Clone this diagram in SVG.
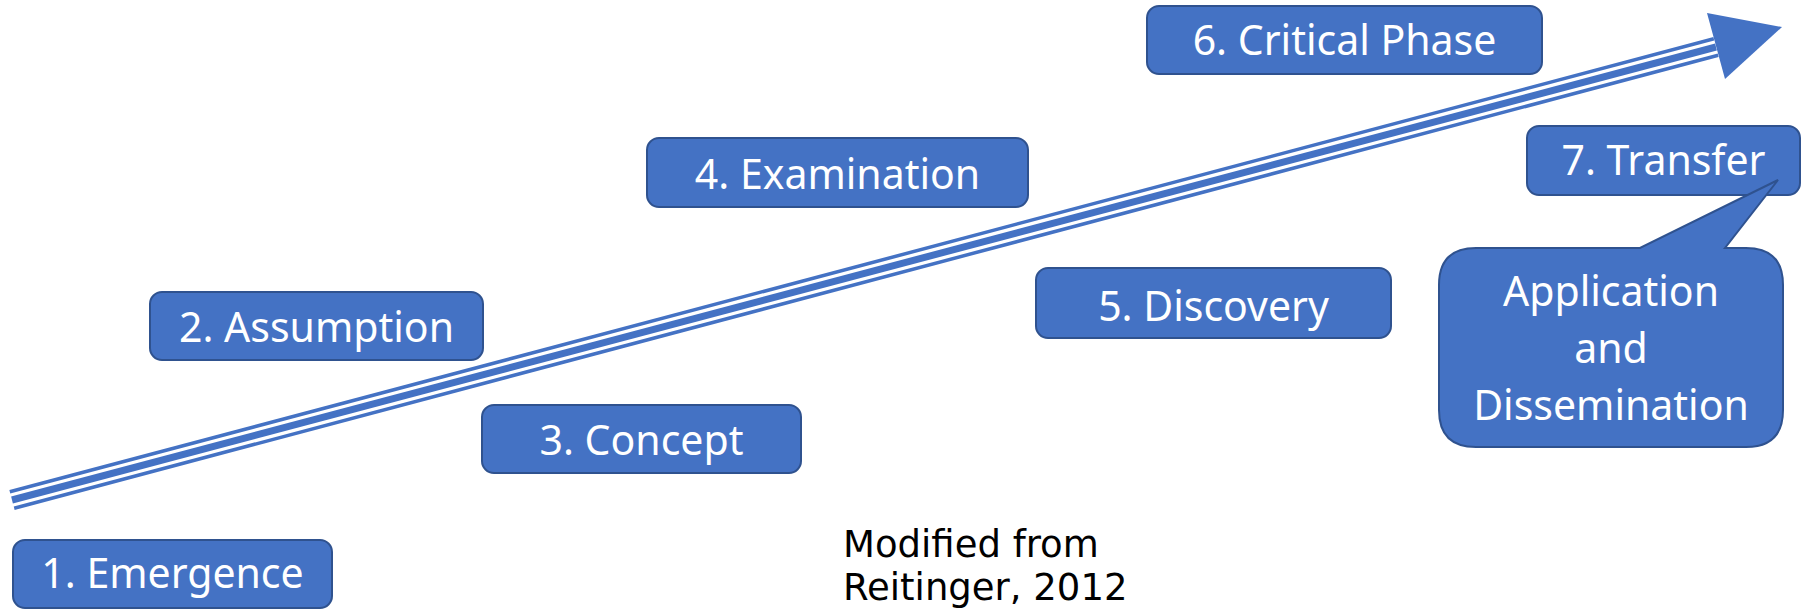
<svg xmlns="http://www.w3.org/2000/svg" width="1808" height="609" viewBox="0 0 1808 609">
<style>
.box{fill:#4472C4;stroke:#2F528F;stroke-width:2}
.lbl{font-family:"Noto Sans","Open Sans",sans-serif;font-size:41px;fill:#FFFFFF;text-anchor:middle}
.ln{stroke:#4472C4;fill:none;stroke-linecap:butt}
.note{font-family:"DejaVu Sans",sans-serif;font-size:37px;fill:#000000}
</style>
<rect width="1808" height="609" fill="#FFFFFF"/>
<g id="connectors">
<line class="ln" x1="9.8" y1="491.8" x2="1713.8" y2="38.8" stroke-width="3.5"/>
<line class="ln" x1="12" y1="500" x2="1716" y2="47" stroke-width="7"/>
<line class="ln" x1="14.2" y1="508.2" x2="1718.2" y2="55.2" stroke-width="3.5"/>
<polygon points="1707,13 1782,27 1725,79" fill="#4472C4"/>
</g>
<g id="n1"><rect class="box" x="13" y="540" width="319" height="68" rx="12"/><text class="lbl" x="172.5" y="588">1. Emergence</text></g>
<g id="n2"><rect class="box" x="150" y="292" width="333" height="68" rx="12"/><text class="lbl" x="316.5" y="342">2. Assumption</text></g>
<g id="n3"><rect class="box" x="482" y="405" width="319" height="68" rx="12"/><text class="lbl" x="641.5" y="455">3. Concept</text></g>
<g id="n4"><rect class="box" x="647" y="138" width="381" height="69" rx="12"/><text class="lbl" x="837.5" y="189">4. Examination</text></g>
<g id="n5"><rect class="box" x="1036" y="268" width="355" height="70" rx="12"/><text class="lbl" x="1213.5" y="321">5. Discovery</text></g>
<g id="n6"><rect class="box" x="1147" y="6" width="395" height="68" rx="12"/><text class="lbl" x="1344.5" y="55">6. Critical Phase</text></g>
<g id="n7"><rect class="box" x="1527" y="126" width="273" height="69" rx="12"/><text class="lbl" x="1663.5" y="175">7. Transfer</text></g>
<g id="callout">
<path class="box" d="M1476,248 L1640,248 L1778,180 L1725,248 L1746,248 Q1783,248 1783,285 L1783,410 Q1783,447 1746,447 L1476,447 Q1439,447 1439,410 L1439,285 Q1439,248 1476,248 Z"/>
<text class="lbl" x="1611" y="306">Application</text>
<text class="lbl" x="1611" y="363">and</text>
<text class="lbl" x="1611" y="420">Dissemination</text>
</g>
<g id="note">
<text class="note" x="843" y="557">Modified from</text>
<text class="note" x="843" y="600">Reitinger, 2012</text>
</g>
</svg>
